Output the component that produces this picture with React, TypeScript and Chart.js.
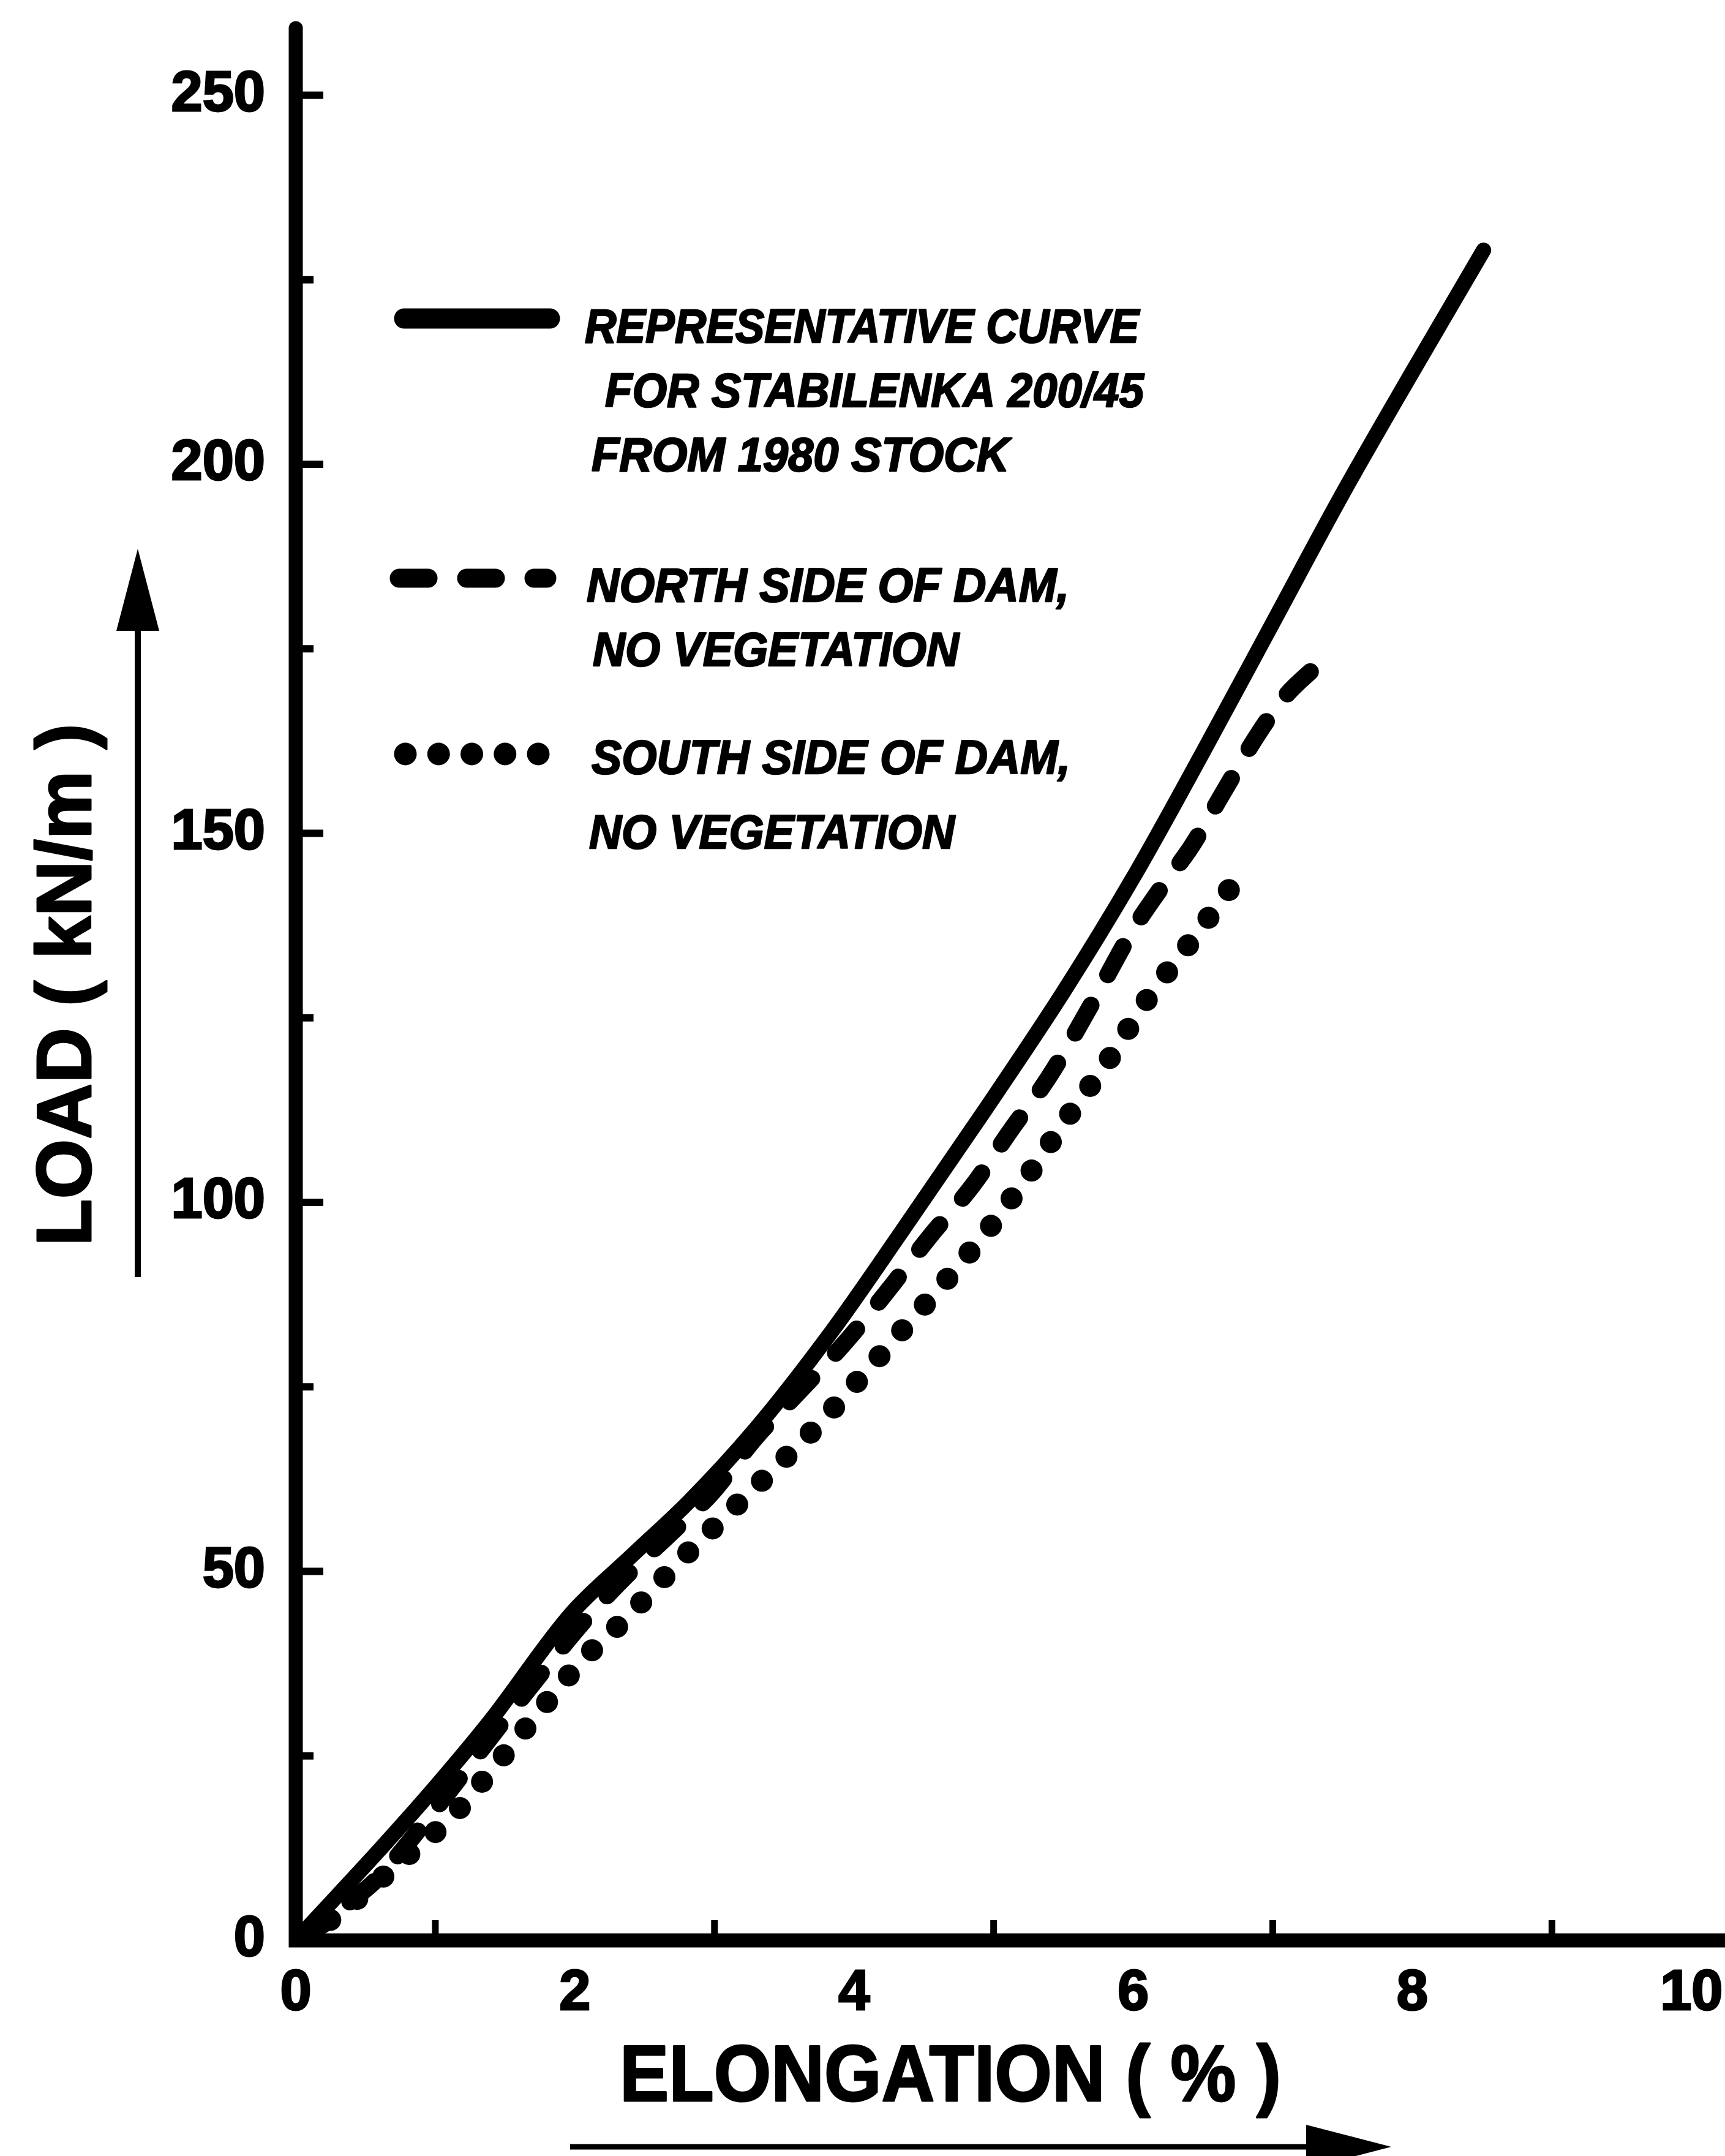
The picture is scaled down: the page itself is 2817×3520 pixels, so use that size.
import React, { useEffect, useRef } from 'react';
import { Chart, registerables } from 'chart.js';

Chart.register(...registerables);

const W = 2817;
const H = 3520;
const FONT = "'Liberation Sans', Arial, Helvetica, sans-serif";

// ---------- data (elongation %, load kN/m) ----------
const solidX = [0, 0.63, 1.0, 1.4, 1.97, 2.4, 2.82, 3.29, 3.84, 4.34, 4.92, 5.5, 6.0, 6.5, 7.0, 7.5, 8.0, 8.51];
const solidY = [0, 12.9, 20.8, 29.9, 44.2, 52, 59.5, 69.2, 82.5, 96, 112, 128.5, 144, 161, 178.5, 196, 212.5, 229];

const northX = [0, 0.21, 0.38, 0.57, 1.0, 1.5, 2.09, 2.39, 2.74, 2.99, 3.29, 3.61, 3.94, 4.24, 4.54, 4.85, 5.12, 5.4, 5.7, 6.0, 6.2, 6.42, 6.65, 6.9, 7.1, 7.31];
const northY = [0, 2.3, 5.1, 8.1, 17.8, 30.0, 43.8, 49.8, 56.1, 60.8, 68, 74.4, 81.1, 88, 95.3, 102.3, 109.7, 117.1, 126.8, 137, 142.6, 148.3, 155.7, 163.6, 168.8, 172.6];

const southX = [0.05, 0.4, 0.77, 1.12, 1.43, 1.74, 2.04, 2.39, 2.72, 3.04, 3.39, 3.73, 4.04, 4.36, 4.68, 4.98, 5.26, 5.54, 5.82, 6.1, 6.4, 6.72];
const southY = [0, 5, 11, 16.8, 23.7, 30.9, 37.7, 44.1, 50.8, 56.8, 63.2, 69.6, 76.1, 83, 89.9, 96.8, 104, 111.8, 119.2, 127.5, 135, 143.2];

const xTickValues = [0, 2, 4, 6, 8, 10];
const xMinorTicks = [1, 3, 5, 7, 9];
const yTickValues = [0, 50, 100, 150, 200, 250];
const yMinorTicks = [25, 50, 75, 100, 125, 150, 175, 200, 225, 250];
const X_MAX = 10.24;
const Y_MAX = 260;

const legendSolid = ['REPRESENTATIVE CURVE', 'FOR STABILENKA 200/45', 'FROM 1980 STOCK'];
const legendNorth = ['NORTH SIDE OF DAM,', 'NO VEGETATION'];
const legendSouth = ['SOUTH SIDE OF DAM,', 'NO VEGETATION'];
const yTitle = 'LOAD ( kN/m )';
const xTitle = 'ELONGATION ( % )';

const toPts = (xs: number[], ys: number[]) => xs.map((x, i) => ({ x, y: ys[i] }));

function fitText(ctx: CanvasRenderingContext2D, text: string, x: number, y: number, w: number, stroke = 0) {
  const m = ctx.measureText(text).width;
  ctx.save();
  ctx.translate(x, y);
  ctx.scale(w / m, 1);
  ctx.fillText(text, 0, 0);
  if (stroke > 0) {
    ctx.lineWidth = stroke;
    ctx.lineJoin = 'round';
    ctx.setLineDash([]);
    ctx.strokeText(text, 0, 0);
  }
  ctx.restore();
}

const decorPlugin = {
  id: 'decor',
  beforeDraw(chart: any) {
    const ctx = chart.ctx;
    ctx.save();
    ctx.fillStyle = '#fff';
    ctx.fillRect(0, 0, chart.width, chart.height);
    ctx.restore();
  },
  afterDraw(chart: any) {
    const ctx: CanvasRenderingContext2D = chart.ctx;
    const xs = chart.scales.x;
    const ys = chart.scales.y;
    const x0 = xs.getPixelForValue(0);
    const y0 = ys.getPixelForValue(0);
    const yTop = ys.getPixelForValue(Y_MAX);
    ctx.save();
    ctx.strokeStyle = '#000';
    ctx.fillStyle = '#000';

    // axes
    ctx.lineWidth = 23;
    ctx.lineCap = 'round';
    ctx.lineJoin = 'miter';
    ctx.beginPath();
    ctx.moveTo(x0, yTop + 11);
    ctx.lineTo(x0, y0);
    ctx.lineTo(W + 30, y0);
    ctx.stroke();

    // inside ticks
    ctx.lineCap = 'butt';
    ctx.lineWidth = 12;
    yMinorTicks.forEach((v) => {
      const p = ys.getPixelForValue(v);
      const len = v % 50 === 0 ? 45 : 29;
      ctx.beginPath();
      ctx.moveTo(x0, p);
      ctx.lineTo(x0 + len, p);
      ctx.stroke();
    });
    ctx.lineWidth = 11;
    xMinorTicks.forEach((v) => {
      const p = xs.getPixelForValue(v);
      ctx.beginPath();
      ctx.moveTo(p, y0);
      ctx.lineTo(p, y0 - 33);
      ctx.stroke();
    });

    // legend samples
    ctx.lineCap = 'round';
    ctx.lineWidth = 33;
    ctx.beginPath();
    ctx.moveTo(660, 520);
    ctx.lineTo(898, 520);
    ctx.stroke();

    ctx.lineWidth = 31;
    ctx.setLineDash([47, 63]);
    ctx.beginPath();
    ctx.moveTo(652, 944);
    ctx.lineTo(893, 944);
    ctx.stroke();

    ctx.lineWidth = 37;
    ctx.setLineDash([0, 54.25]);
    ctx.beginPath();
    ctx.moveTo(662, 1231);
    ctx.lineTo(880, 1231);
    ctx.stroke();
    ctx.setLineDash([]);

    // legend text
    ctx.font = `italic bold 78px ${FONT}`;
    ctx.textAlign = 'left';
    ctx.textBaseline = 'alphabetic';
    fitText(ctx, legendSolid[0], 955, 559, 905, 2.5);
    fitText(ctx, legendSolid[1], 988, 664, 880, 2.5);
    fitText(ctx, legendSolid[2], 966, 769, 682, 2.5);
    fitText(ctx, legendNorth[0], 958, 982, 788, 2.5);
    fitText(ctx, legendNorth[1], 968, 1087, 598, 2.5);
    fitText(ctx, legendSouth[0], 966, 1263, 782, 2.5);
    fitText(ctx, legendSouth[1], 962, 1385, 597, 2.5);

    // y title
    ctx.save();
    ctx.translate(148, 1608);
    ctx.rotate(-Math.PI / 2);
    ctx.font = `bold 127px ${FONT}`;
    ctx.textAlign = 'left';
    fitText(ctx, yTitle, -853 / 2, 0, 853, 3);
    ctx.restore();

    // x title
    ctx.font = `bold 130px ${FONT}`;
    fitText(ctx, xTitle, 1012, 3430, 1080, 3);

    // y arrow
    ctx.lineCap = 'butt';
    ctx.lineWidth = 10;
    ctx.beginPath();
    ctx.moveTo(225, 2085);
    ctx.lineTo(225, 1020);
    ctx.stroke();
    ctx.beginPath();
    ctx.moveTo(225, 896);
    ctx.lineTo(190, 1030);
    ctx.lineTo(260, 1030);
    ctx.closePath();
    ctx.fill();

    // x arrow
    ctx.lineWidth = 9;
    ctx.beginPath();
    ctx.moveTo(931, 3505);
    ctx.lineTo(2140, 3505);
    ctx.stroke();
    ctx.beginPath();
    ctx.moveTo(2272, 3505);
    ctx.lineTo(2133, 3469);
    ctx.lineTo(2133, 3541);
    ctx.closePath();
    ctx.fill();

    ctx.restore();
  },
};

export default function App() {
  const ref = useRef<HTMLCanvasElement>(null);
  useEffect(() => {
    const canvas = ref.current;
    if (!canvas) return;
    const chart = new Chart(canvas, {
      type: 'scatter',
      data: {
        datasets: [
          {
            label: legendSolid.join(' '),
            data: toPts(solidX, solidY),
            showLine: true,
            borderColor: '#000',
            borderWidth: 25,
            borderCapStyle: 'round',
            borderJoinStyle: 'round',
            cubicInterpolationMode: 'monotone',
            pointRadius: 0,
            order: 0,
          },
          {
            label: legendNorth.join(' '),
            data: toPts(northX, northY),
            showLine: true,
            borderColor: '#000',
            borderWidth: 28,
            borderDash: [52, 57],
            borderCapStyle: 'round',
            borderJoinStyle: 'round',
            cubicInterpolationMode: 'monotone',
            pointRadius: 0,
            order: 1,
          },
          {
            label: legendSouth.join(' '),
            data: toPts(southX, southY),
            showLine: true,
            borderColor: '#000',
            borderWidth: 36,
            borderDash: [0, 56],
            borderCapStyle: 'round',
            borderJoinStyle: 'round',
            cubicInterpolationMode: 'monotone',
            pointRadius: 0,
            order: 2,
          },
        ] as any,
      },
      options: {
        responsive: false,
        animation: false,
        devicePixelRatio: 1,
        layout: { padding: { top: 35, left: 0, right: 0, bottom: 0 } },
        plugins: { legend: { display: false }, tooltip: { enabled: false } },
        scales: {
          x: {
            type: 'linear',
            min: 0,
            max: X_MAX,
            grid: { display: false, drawTicks: false },
            border: { display: false },
            afterBuildTicks: (s: any) => {
              s.ticks = xTickValues.map((v) => ({ value: v }));
            },
            afterFit: (s: any) => {
              s.height = 352;
              s.paddingLeft = 0;
              s.paddingRight = 0;
            },
            ticks: {
              autoSkip: false,
              maxRotation: 0,
              padding: 32,
              color: '#000',
              textStrokeColor: '#000',
              textStrokeWidth: 3,
              font: { family: FONT, size: 92, weight: 'bold' },
              callback: (v: any) => String(v),
            },
          },
          y: {
            type: 'linear',
            min: 0,
            max: Y_MAX,
            grid: { display: false, drawTicks: false },
            border: { display: false },
            afterBuildTicks: (s: any) => {
              s.ticks = yTickValues.map((v) => ({ value: v }));
            },
            afterFit: (s: any) => {
              s.width = 483;
              s.paddingTop = 0;
              s.paddingBottom = 0;
            },
            ticks: {
              autoSkip: false,
              padding: 50,
              color: '#000',
              textStrokeColor: '#000',
              textStrokeWidth: 3,
              font: { family: FONT, size: 92, weight: 'bold' },
              callback: (v: any) => String(v),
            },
          },
        },
      } as any,
      plugins: [decorPlugin],
    });
    return () => chart.destroy();
  }, []);
  return (
    <div style={{ position: 'absolute', left: 0, top: 0, width: W, height: H, background: '#fff' }}>
      <canvas ref={ref} width={W} height={H} style={{ display: 'block', width: W, height: H }} />
    </div>
  );
}
